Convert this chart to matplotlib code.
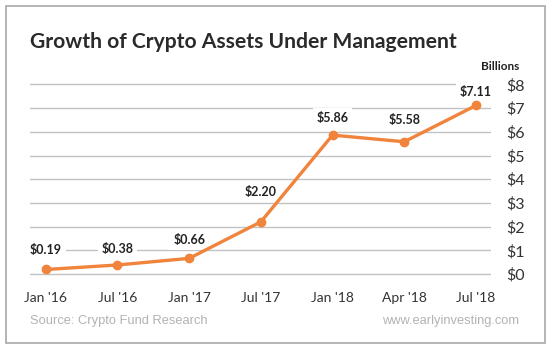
import matplotlib
matplotlib.use('Agg')
import matplotlib.pyplot as plt
from matplotlib.patches import Rectangle

# data
dates = ["Jan '16", "Jul '16", "Jan '17", "Jul '17", "Jan '18", "Apr '18", "Jul '18"]
assets = [0.19, 0.38, 0.66, 2.20, 5.86, 5.58, 7.11]
value_labels = ['$0.19', '$0.38', '$0.66', '$2.20', '$5.86', '$5.58', '$7.11']
y_ticks = [0, 1, 2, 3, 4, 5, 6, 7, 8]
y_tick_labels = ['$' + str(v) for v in y_ticks]

# how far above each point its label sits (pixels)
label_lift = [19, 16, 18, 30, 17, 22, 13]

orange = '#f0843c'
W, H = 550, 351
plt.rcParams['font.family'] = ['Lato', 'DejaVu Sans']

fig = plt.figure(figsize=(W / 100, H / 100), dpi=100)
fig.patch.set_facecolor('white')

# outer grey frame
fig.patches.append(Rectangle((6 / W, 1 - 343 / H), 539 / W, 337 / H,
                             transform=fig.transFigure, fill=False,
                             edgecolor='#a8a8a8', linewidth=1.2))

unit = 23.7
y0 = 274 + 0.1 * unit
y1 = 274 - 8.1 * unit
ax = fig.add_axes([30 / W, 1 - y0 / H, 461 / W, (y0 - y1) / H])
ax.set_ylim(-0.1, 8.1)
ax.set_xlim(-0.22, 6.21)

x = list(range(len(dates)))
for v in y_ticks:
    ax.axhline(v, color='#c2c2c2', linewidth=1.0, zorder=1)

ax.plot(x, assets, color=orange, linewidth=2.4, marker='o', markersize=6,
        zorder=3, solid_capstyle='round')

for i in range(len(x)):
    ax.annotate(value_labels[i], (x[i], assets[i]), xytext=(0, label_lift[i]),
                textcoords='offset pixels', ha='center', va='center',
                fontsize=9, fontweight='bold', color='#222222', zorder=2,
                bbox=dict(boxstyle='square,pad=0.3', facecolor='white',
                          edgecolor='none'))

for s in ax.spines.values():
    s.set_visible(False)

ax.set_xticks(x)
ax.set_xticklabels(dates, fontsize=10, color='#333333')
ax.yaxis.tick_right()
ax.set_yticks(y_ticks)
ax.set_yticklabels(y_tick_labels, fontsize=11.5, color='#333333')
ax.tick_params(axis='both', length=0)
ax.tick_params(axis='x', pad=11)
ax.tick_params(axis='y', pad=11)

fig.text(30 / W, 1 - 42 / H, 'Growth of Crypto Assets Under Management',
         fontsize=15.2, fontweight='bold', color='#2a2a2a', va='center', ha='left')
fig.text(519 / W, 1 - 66 / H, 'Billions', fontsize=8.5, fontweight='bold',
         color='#222222', va='center', ha='right')
fig.text(30 / W, 1 - 321 / H, 'Source: Crypto Fund Research',
         fontsize=9.3, color='#b3b3b3', va='center', ha='left',
         family='Liberation Sans')
fig.text(519 / W, 1 - 321 / H, 'www.earlyinvesting.com',
         fontsize=9.3, color='#b3b3b3', va='center', ha='right',
         family='Liberation Sans')

fig.savefig('out.png', dpi=100)
